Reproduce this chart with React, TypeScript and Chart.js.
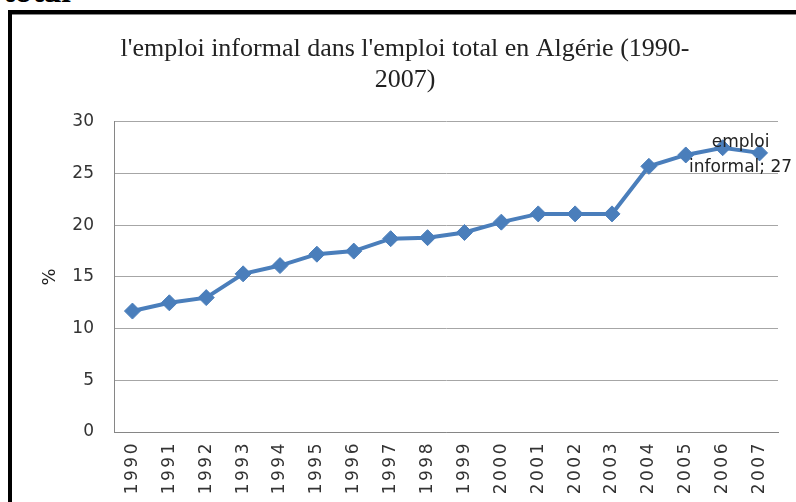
import React, { useEffect, useRef } from "react";
import { Chart, registerables } from "chart.js";

Chart.register(...registerables);

const years = ["1990", "1991", "1992", "1993", "1994", "1995", "1996", "1997", "1998", "1999", "2000", "2001", "2002", "2003", "2004", "2005", "2006", "2007"];
const informalShare = [11.7, 12.5, 13.0, 15.3, 16.1, 17.2, 17.5, 18.7, 18.8, 19.3, 20.3, 21.1, 21.1, 21.1, 25.7, 26.8, 27.5, 27];
const seriesName = "emploi informal";
const yAxisTitle = "%";
const titleLines = ["l'emploi informal dans l'emploi total en Algérie (1990-", "2007)"];
const yMin = 0;
const yMax = 30;
const yStep = 5;
const headingFragment = "total";

const lineColor = "#4A7EBB";

const labelPlugin = {
  id: "lastPointLabel",
  afterDatasetsDraw(chart: any) {
    chart.ctx.letterSpacing = "2.5px";
  },
  afterDraw(chart: any) {
    const ctx = chart.ctx;
    ctx.letterSpacing = "0px";
    const meta = chart.getDatasetMeta(0);
    const i = meta.data.length - 1;
    const pt = meta.data[i];
    const v = chart.data.datasets[0].data[i];
    const words = seriesName.split(" ");
    const lines = [words[0], `${words.slice(1).join(" ")}; ${Math.round(v)}`];
    ctx.save();
    ctx.font = '17px "DejaVu Sans"';
    ctx.fillStyle = "#222";
    ctx.textAlign = "center";
    ctx.textBaseline = "middle";
    ctx.fillText(lines[0], pt.x - 19, pt.y - 10);
    ctx.fillText(lines[1], pt.x - 19, pt.y + 15);
    ctx.restore();
  },
};

export default function App() {
  const canvasRef = useRef<HTMLCanvasElement | null>(null);

  useEffect(() => {
    if (!canvasRef.current) return;
    const tickFont = { family: '"DejaVu Sans"', size: 17 };
    const chart = new Chart(canvasRef.current, {
      type: "line",
      data: {
        labels: years,
        datasets: [
          {
            label: seriesName,
            data: informalShare,
            borderColor: lineColor,
            backgroundColor: lineColor,
            borderWidth: 4,
            pointStyle: "rectRot",
            pointRadius: 8,
            pointBackgroundColor: lineColor,
            pointBorderColor: lineColor,
            pointBorderWidth: 1,
            tension: 0,
          },
        ],
      },
      options: {
        animation: false,
        responsive: false,
        devicePixelRatio: 1,
        layout: { padding: { left: 32, right: 18, top: 0, bottom: 0 } },
        plugins: {
          legend: { display: false },
          tooltip: { enabled: false },
          title: {
            display: true,
            text: titleLines,
            font: { family: '"Liberation Serif"', size: 26, weight: "normal", lineHeight: 1.19 },
            color: "#222",
            padding: { top: 34, bottom: 26 },
          },
        },
        scales: {
          x: {
            offset: true,
            grid: { display: false },
            border: { display: true, color: "#868686", width: 1 },
            ticks: {
              autoSkip: false,
              maxRotation: 90,
              minRotation: 90,
              font: tickFont,
              color: "#333",
              padding: 1,
              z: 1,
            },
            afterFit: (s: any) => {
              s.height = 70;
            },
          },
          y: {
            min: yMin,
            max: yMax,
            ticks: { stepSize: yStep, font: tickFont, color: "#333", padding: 20 },
            grid: { color: "#a6a6a6", drawTicks: false },
            border: { color: "#868686", width: 1 },
            title: {
              display: true,
              text: yAxisTitle,
              font: { family: '"DejaVu Sans"', size: 18 },
              color: "#222",
              padding: { top: 8, bottom: 0 },
            },
            afterFit: (s: any) => {
              s.width = 82;
            },
          },
        },
      },
      plugins: [labelPlugin],
    } as any);
    return () => chart.destroy();
  }, []);

  return (
    <div style={{ position: "absolute", left: 0, top: 0, width: 796, height: 502, overflow: "hidden", background: "#fff" }}>
      <div
        style={{
          position: "absolute",
          left: 3,
          top: -27,
          fontFamily: '"Liberation Serif", serif',
          fontWeight: "bold",
          fontSize: 35,
          lineHeight: 1,
          color: "#000",
        }}
      >
        {headingFragment}
      </div>
      <div
        style={{
          position: "absolute",
          left: 8,
          top: 10,
          width: 800,
          height: 500,
          borderLeft: "4px solid #000",
          borderTop: "4px solid #000",
          boxShadow: "inset 0 1px 0 #888",
        }}
      />
      <canvas ref={canvasRef} width={796} height={502} style={{ position: "absolute", left: 0, top: 0, width: 796, height: 502 }} />
    </div>
  );
}
